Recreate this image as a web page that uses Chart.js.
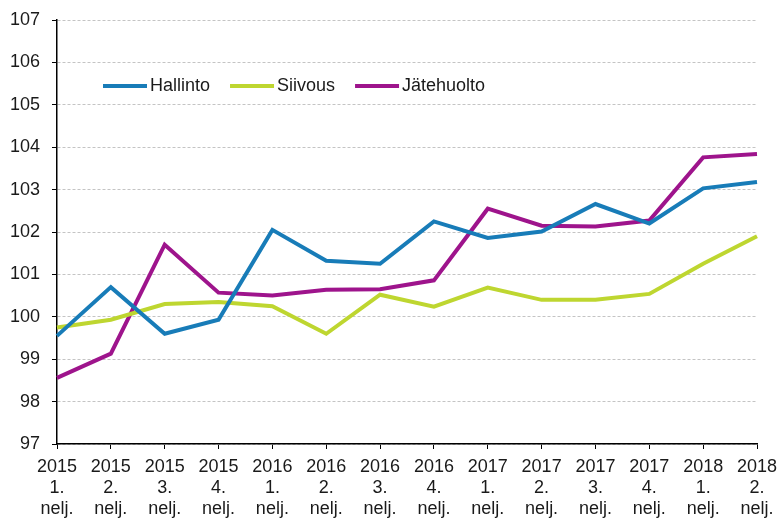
<!DOCTYPE html>
<html>
<head>
<meta charset="utf-8">
<script src="https://cdn.jsdelivr.net/npm/chart.js@4"></script>
<style>
  html, body { margin: 0; padding: 0; background: #fff; }
  #wrap { width: 783px; height: 525px; }
</style>
</head>
<body>
<div id="wrap"><canvas id="lineChart"></canvas></div>
<script>
const labels = [
    ['2015', '1.', 'nelj.'], ['2015', '2.', 'nelj.'], ['2015', '3.', 'nelj.'], ['2015', '4.', 'nelj.'],
    ['2016', '1.', 'nelj.'], ['2016', '2.', 'nelj.'], ['2016', '3.', 'nelj.'], ['2016', '4.', 'nelj.'],
    ['2017', '1.', 'nelj.'], ['2017', '2.', 'nelj.'], ['2017', '3.', 'nelj.'], ['2017', '4.', 'nelj.'],
    ['2018', '1.', 'nelj.'], ['2018', '2.', 'nelj.']
];
const hallinto = [99.55, 100.7, 99.6, 99.93, 102.05, 101.32, 101.25, 102.25, 101.86, 102.01, 102.66, 102.2, 103.03, 103.18];
const siivous = [99.75, 99.93, 100.3, 100.35, 100.25, 99.6, 100.52, 100.24, 100.69, 100.4, 100.4, 100.54, 101.25, 101.9];
const jatehuolto = [98.56, 99.13, 101.7, 100.57, 100.5, 100.64, 100.65, 100.86, 102.55, 102.15, 102.13, 102.27, 103.76, 103.84];
const yMin = 97;
const yMax = 107;

const FONT = '"Liberation Sans", Arial, sans-serif';

// legend drawn inside the plot, top left
const innerLegend = {
    id: 'innerLegend',
    afterDraw(chart) {
        const ctx = chart.ctx;
        const y = 86;
        let x = 103;
        ctx.save();
        ctx.font = '18px ' + FONT;
        ctx.textBaseline = 'middle';
        ctx.fillStyle = '#1a1a1a';
        chart.data.datasets.forEach(ds => {
            ctx.strokeStyle = ds.borderColor;
            ctx.lineWidth = 4;
            ctx.beginPath();
            ctx.moveTo(x, y);
            ctx.lineTo(x + 44, y);
            ctx.stroke();
            x += 47;
            ctx.fillText(ds.label, x, y);
            x += ctx.measureText(ds.label).width + 20;
        });
        ctx.restore();
    }
};

// fixed axis sizes, let layout padding decide the plot edges
const fixX = s => {
    s.height = 81;
    s.paddingLeft = 0;
    s.paddingRight = 0;
};
const fixY = s => {
    s.width = 57;
    s.paddingTop = 0;
    s.paddingBottom = 0;
};

new Chart(document.getElementById('lineChart').getContext('2d'), {
    type: 'line',
    data: {
        labels: labels,
        datasets: [
            { label: 'Hallinto', data: hallinto, borderColor: 'rgb(24, 124, 184)' },
            { label: 'Siivous', data: siivous, borderColor: 'rgb(190, 214, 48)' },
            { label: 'Jätehuolto', data: jatehuolto, borderColor: 'rgb(158, 20, 140)' }
        ]
    },
    options: {
        responsive: true,
        maintainAspectRatio: false,
        animation: false,
        layout: { padding: { top: 20, right: 26, left: 0, bottom: 0 } },
        elements: {
            line: { borderWidth: 4, tension: 0, fill: false },
            point: { radius: 0 }
        },
        plugins: {
            legend: { display: false },
            tooltip: { enabled: false }
        },
        scales: {
            x: {
                offset: false,
                afterFit: fixX,
                grid: { drawOnChartArea: false, tickLength: 5, tickColor: '#000' },
                border: { color: '#000', width: 1.5 },
                ticks: {
                    autoSkip: false,
                    maxRotation: 0,
                    padding: 8,
                    color: '#1a1a1a',
                    font: { family: FONT, size: 18, lineHeight: 1.15 }
                }
            },
            y: {
                min: yMin,
                max: yMax,
                afterFit: fixY,
                grid: { color: '#c4c4c4', lineWidth: 1, tickLength: 5, tickColor: '#000' },
                border: { color: '#000', width: 1.5, dash: [3, 2] },
                ticks: {
                    stepSize: 1,
                    padding: 12,
                    color: '#1a1a1a',
                    font: { family: FONT, size: 18 }
                }
            }
        }
    },
    plugins: [innerLegend]
});
</script>
</body>
</html>
